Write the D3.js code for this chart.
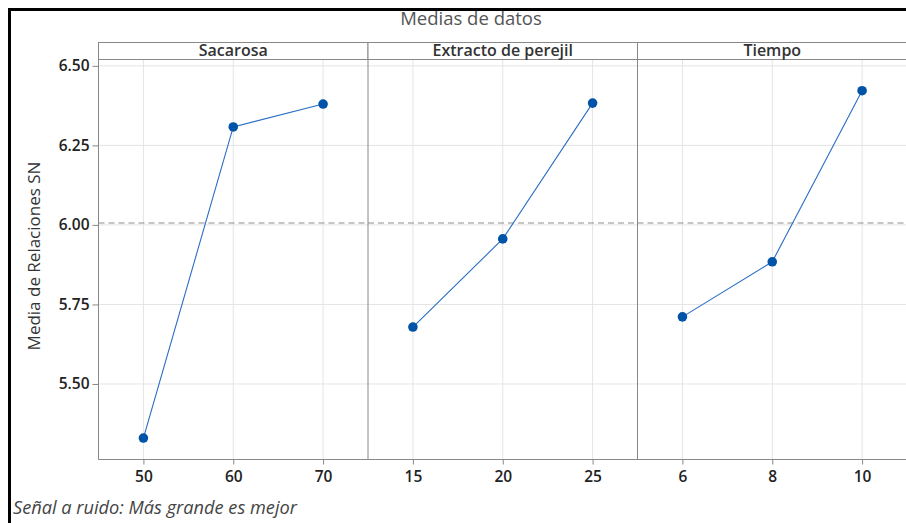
<!DOCTYPE html>
<html>
<head>
<meta charset="utf-8">
<script src="https://cdn.jsdelivr.net/npm/d3@7"></script>
<style>
  html, body { margin: 0; padding: 0; background: #fff; }
  svg { display: block; }
</style>
</head>
<body>
<svg id="chart" width="906" height="523"></svg>
<script>
// Main-effects means for S/N ratio, one panel per factor
const factors = ["Sacarosa", "Extracto de perejil", "Tiempo"];
const sacarosaLevels = ["50", "60", "70"];
const sacarosaMeans = [5.330, 6.308, 6.380];
const extractoLevels = ["15", "20", "25"];
const extractoMeans = [5.679, 5.956, 6.383];
const tiempoLevels = ["6", "8", "10"];
const tiempoMeans = [5.711, 5.884, 6.422];
const yTicks = [5.50, 5.75, 6.00, 6.25, 6.50];
const grandMean = 6.006;

const panels = [
  { name: factors[0], levels: sacarosaLevels, means: sacarosaMeans },
  { name: factors[1], levels: extractoLevels, means: extractoMeans },
  { name: factors[2], levels: tiempoLevels, means: tiempoMeans }
];

const svg = d3.select("#chart");
const font = "'Open Sans', 'Noto Sans', sans-serif";

// frame lines along top and left
svg.append("rect").attr("x", 8).attr("y", 8).attr("width", 3).attr("height", 515).attr("fill", "#000");
svg.append("rect").attr("x", 8).attr("y", 8).attr("width", 898).attr("height", 3).attr("fill", "#000");

const plotLeft = 98.5, plotRight = 907, stripTop = 42.5, plotTop = 59.5, plotBottom = 459.5;
const panelW = (plotRight - plotLeft) / 3;

const y = d3.scaleLinear().domain([5.2626, 6.520]).range([plotBottom, plotTop]);

// title
svg.append("text").attr("x", 471).attr("y", 25).attr("text-anchor", "middle")
  .attr("font-family", font).attr("font-size", 18.5).attr("fill", "#555")
  .text("Medias de datos");

// y axis label
svg.append("text").attr("transform", "translate(40,256) rotate(-90)")
  .attr("text-anchor", "middle").attr("font-family", font).attr("font-size", 17)
  .attr("fill", "#333").text("Media de Relaciones SN");

// footnote
svg.append("text").attr("x", 13).attr("y", 514)
  .attr("font-family", font).attr("font-size", 18.2).attr("font-style", "italic")
  .attr("fill", "#444").text("Señal a ruido: Más grande es mejor");

panels.forEach((p, i) => {
  const x0 = plotLeft + i * panelW;
  const g = svg.append("g");
  const x = d3.scalePoint().domain(p.levels).range([x0, x0 + panelW]).padding(0.5);

  // grid
  g.selectAll(".hg").data(yTicks).join("line")
    .attr("x1", x0).attr("x2", x0 + panelW)
    .attr("y1", d => y(d)).attr("y2", d => y(d))
    .attr("stroke", "#e4e4e4").attr("stroke-width", 1);
  g.selectAll(".vg").data(p.levels).join("line")
    .attr("x1", d => x(d)).attr("x2", d => x(d))
    .attr("y1", plotTop).attr("y2", plotBottom)
    .attr("stroke", "#e4e4e4").attr("stroke-width", 1);

  // reference line at grand mean
  g.append("line").attr("x1", x0).attr("x2", x0 + panelW)
    .attr("y1", y(grandMean)).attr("y2", y(grandMean))
    .attr("stroke", "#8c8c8c").attr("stroke-width", 1).attr("stroke-dasharray", "6,4");

  // x axis
  const xa = g.append("g").attr("transform", `translate(0,${plotBottom})`)
    .call(d3.axisBottom(x).tickSize(5).tickPadding(6));
  xa.select(".domain").remove();
  xa.selectAll("line").attr("stroke", "#888");
  xa.selectAll("text").attr("font-family", font).attr("font-size", 15.5)
    .attr("font-weight", 600).attr("fill", "#222");

  // strip header
  g.append("rect").attr("x", x0).attr("y", stripTop).attr("width", panelW).attr("height", plotTop - stripTop)
    .attr("fill", "#fff").attr("stroke", "#888").attr("stroke-width", 1);
  g.append("text").attr("x", x0 + panelW / 2).attr("y", plotTop - 3.5).attr("text-anchor", "middle")
    .attr("font-family", font).attr("font-size", 16).attr("font-weight", 600).attr("fill", "#333")
    .text(p.name);

  // mean line and points
  const pts = p.levels.map((l, k) => [x(l), y(p.means[k])]);
  g.append("path").attr("d", d3.line()(pts)).attr("fill", "none")
    .attr("stroke", "#2a6ec4").attr("stroke-width", 1.1);
  g.selectAll("circle").data(p.means).join("circle")
    .attr("cx", (d, k) => x(p.levels[k])).attr("cy", d => y(d)).attr("r", 4.8)
    .attr("fill", "#0054a8");

  // panel separators
  g.append("line").attr("x1", x0).attr("x2", x0).attr("y1", plotTop).attr("y2", plotBottom)
    .attr("stroke", "#888").attr("stroke-width", 1);
});

// bottom border
svg.append("line").attr("x1", plotLeft).attr("x2", plotRight).attr("y1", plotBottom).attr("y2", plotBottom)
  .attr("stroke", "#888").attr("stroke-width", 1);

// y axis
const ya = svg.append("g").attr("transform", `translate(${plotLeft},0)`)
  .call(d3.axisLeft(y).tickValues(yTicks).tickFormat(d3.format(".2f")).tickSize(6).tickPadding(3));
ya.select(".domain").attr("stroke", "#888").attr("d", `M0,${plotTop}V${plotBottom}`);
ya.selectAll("line").attr("stroke", "#888");
ya.selectAll("text").attr("font-family", font).attr("font-size", 15.5)
  .attr("font-weight", 600).attr("fill", "#222");
</script>
</body>
</html>
